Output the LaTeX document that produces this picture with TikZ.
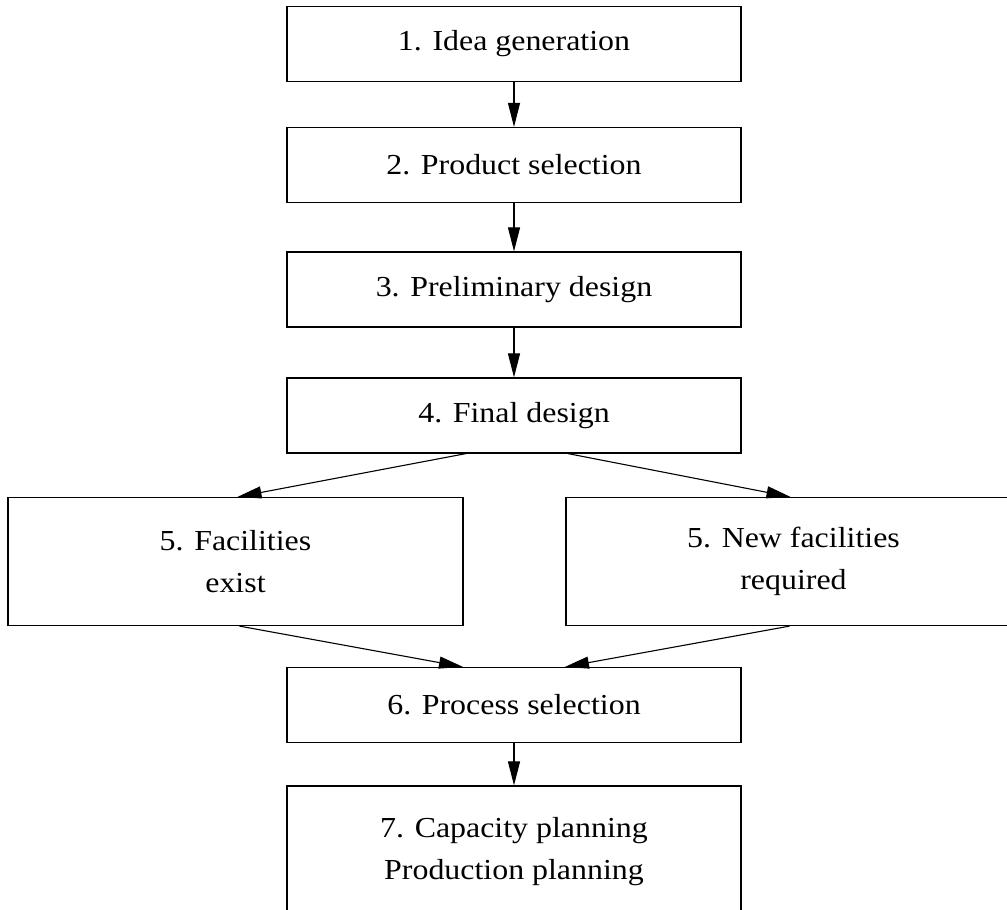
\documentclass[tikz,border=0pt]{standalone}
\usepackage{fontspec}
\setmainfont{Liberation Serif}[FakeStretch=1.1]
\usetikzlibrary{arrows.meta}
\begin{document}
\begin{tikzpicture}[x=1pt,y=-1pt,
  stage/.style={draw, line width=1.2pt, minimum width=454pt, minimum height=75pt,
    inner sep=0pt, align=center, font=\fontsize{29}{42}\selectfont},
  wide/.style={stage, minimum width=455pt, minimum height=128pt},
  flow/.style={line width=1.1pt, -{Triangle[length=24pt,width=12pt]}}
]
\clip (0,0) rectangle (1007,910);
\fill[white] (0,0) rectangle (1007,910);

% main column of stages
\node[stage] (s1) at (514,44)    {1. Idea generation};
\node[stage] (s2) at (514,165)   {2. Product selection};
\node[stage] (s3) at (514,289.5) {3. Preliminary design};
\node[stage] (s4) at (514,415.5) {4. Final design};

% the two facility branches
\node[wide] (s5a) at (235.5,561.5) {5. Facilities\\exist};
\node[wide] (s5b) at (793.5,561.5) {5. New facilities\\required};

\node[stage] (s6) at (514,705) {6. Process selection};
\node[stage, minimum height=132pt] (s7) at (514,852) {7. Capacity planning\\Production planning};

% connectors
\draw[flow] (s1.south) -- (s2.north);
\draw[flow] (s2.south) -- (s3.north);
\draw[flow] (s3.south) -- (s4.north);
\draw[flow] ([xshift=-48pt]s4.south) -- ([xshift=2pt]s5a.north);
\draw[flow] ([xshift=54pt]s4.south) -- ([xshift=-3pt]s5b.north);
\draw[flow] ([xshift=4pt]s5a.south) -- ([xshift=-51pt]s6.north);
\draw[flow] ([xshift=-4pt]s5b.south) -- ([xshift=51pt]s6.north);
\draw[flow] (s6.south) -- (s7.north);
\end{tikzpicture}
\end{document}
